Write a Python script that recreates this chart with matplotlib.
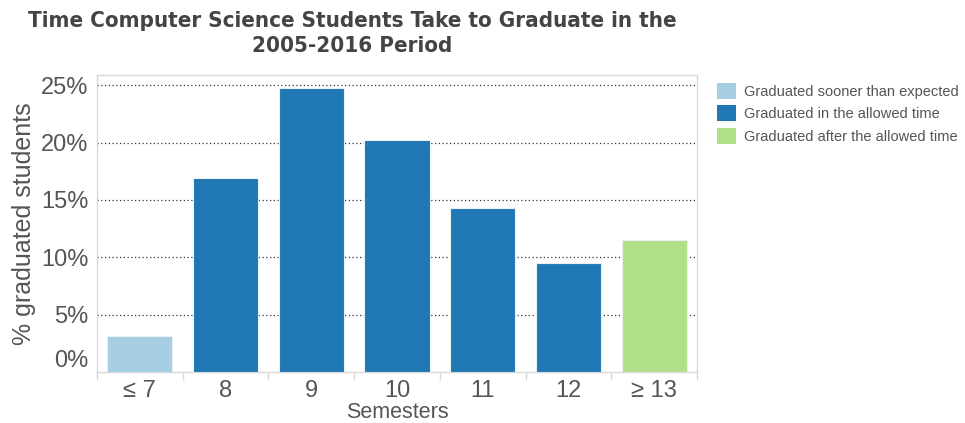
import numpy as np
import matplotlib.pyplot as plt
import matplotlib.transforms as mtransforms
from matplotlib.patches import Patch

# data
semesters = ["\u2264 7", "8", "9", "10", "11", "12", "\u2265 13"]
pct_graduated = [3.1, 16.9, 24.8, 20.2, 14.3, 9.5, 11.5]
groups = ["sooner", "allowed", "allowed", "allowed", "allowed", "allowed", "after"]
yticks = [0, 5, 10, 15, 20, 25]

group_colors = {"sooner": "#a6cee3", "allowed": "#1f78b4", "after": "#b2df8a"}
legend_labels = {
    "sooner": "Graduated sooner than expected",
    "allowed": "Graduated in the allowed time",
    "after": "Graduated after the allowed time",
}

plt.rcParams["font.family"] = ["Liberation Sans", "DejaVu Sans"]
text_gray = "#555555"
spine_gray = "#d9d9d9"

fig = plt.figure(figsize=(9.65, 4.23), dpi=100)
ax = fig.add_axes([0.1005, 0.1206, 0.6218, 0.7021])

x = np.arange(len(semesters))
ax.bar(x, pct_graduated, width=0.76, color=[group_colors[g] for g in groups],
       edgecolor="#e8f0f5", linewidth=0.8, zorder=3)

ax.set_xlim(-0.5, len(semesters) - 0.5)
ax.set_ylim(0, 25.9)

# dotted gridlines (not at zero)
for y in yticks[1:]:
    ax.axhline(y, color="#333333", linestyle=(0, (1, 2)), linewidth=0.9, zorder=1)

ax.set_yticks(yticks)
ax.set_yticklabels([f"{v}%" for v in yticks])
ax.set_xticks(x)
ax.set_xticklabels(semesters)
ax.set_xticks(np.arange(-0.5, len(semesters)), minor=True)
ax.tick_params(axis="x", which="major", length=0, labelsize=17, colors=text_gray, pad=6)
ax.tick_params(axis="x", which="minor", length=6, color=spine_gray, width=1)
ax.tick_params(axis="y", length=0, labelsize=17, colors=text_gray, pad=6)

# the 0% label sits a bit above the baseline, like in the original
lbl0 = ax.get_yticklabels()[0]
lbl0.set_transform(lbl0.get_transform() +
                   mtransforms.ScaledTranslation(0, 0.13, fig.dpi_scale_trans))

for side in ["left", "right", "top", "bottom"]:
    ax.spines[side].set_color(spine_gray)
    ax.spines[side].set_linewidth(1)

ax.set_ylabel("% graduated students", fontsize=18, color=text_gray, labelpad=4)
ax.set_xlabel("Semesters", fontsize=15.5, color=text_gray, labelpad=0)

fig.suptitle("Time Computer Science Students Take to Graduate in the\n2005-2016 Period",
             x=0.365, y=0.975, fontsize=16, fontweight="bold", fontstretch="condensed",
             color="#444444", family=["DejaVu Sans"], linespacing=1.35)

handles = [Patch(facecolor=group_colors[g], edgecolor="none") for g in legend_labels]
fig.legend(handles, list(legend_labels.values()), loc="upper left",
           bbox_to_anchor=(0.729, 0.835), frameon=False, fontsize=10.5,
           labelcolor=text_gray, handlelength=1.3, handleheight=1.3,
           handletextpad=0.6, labelspacing=0.45)

fig.savefig("out.png", dpi=100)
